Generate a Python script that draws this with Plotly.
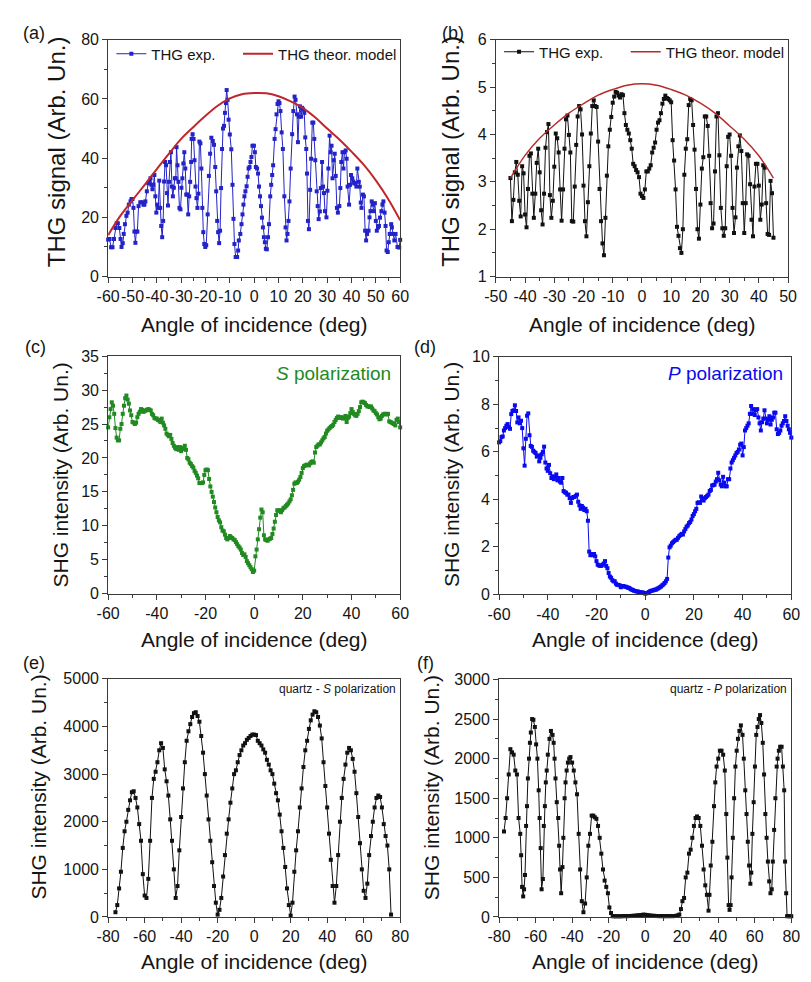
import plotly.graph_objects as go

FONT = "Liberation Sans, Arial, Helvetica, sans-serif"
W, H = 811, 982

# ---------------- data ----------------
# (a) THG, sample 1 (blue) + theoretical model
a_angle = [-60.0, -59.4, -58.8, -58.2, -57.6, -57.0, -56.5, -56.0, -55.4, -54.9,
           -54.5, -54.0, -53.6, -53.1, -52.5, -52.0, -51.5, -50.8, -50.4, -50.0,
           -49.6, -49.2, -48.8, -48.4, -48.0, -47.5, -46.8, -46.1, -45.5, -45.1,
           -44.7, -44.1, -43.5, -43.0, -42.6, -42.2, -41.8, -41.4, -41.0, -40.6,
           -40.2, -39.8, -39.4, -39.0, -38.6, -38.2, -37.8, -37.4, -37.0, -36.6,
           -36.2, -35.8, -35.4, -35.0, -34.6, -34.2, -33.8, -33.4, -33.0, -32.6,
           -32.2, -31.9, -31.5, -31.1, -30.7, -30.3, -29.9, -29.5, -29.1, -28.7,
           -28.3, -27.9, -27.5, -27.1, -26.7, -26.3, -25.9, -25.7, -25.3, -24.9,
           -24.5, -24.1, -23.7, -23.3, -22.9, -22.5, -22.1, -21.7, -21.3, -20.9,
           -20.5, -20.1, -19.7, -19.1, -18.6, -18.1, -17.6, -17.0, -16.5, -16.0,
           -15.6, -15.2, -14.8, -14.4, -14.0, -13.6, -13.2, -12.8, -12.4, -12.0,
           -11.6, -11.3, -10.9, -10.5, -10.0, -9.4, -8.9, -8.5, -8.1, -7.6,
           -7.0, -6.6, -6.3, -5.7, -5.2, -4.8, -4.4, -4.0, -3.6, -3.1,
           -2.7, -2.3, -1.9, -1.5, -1.1, -0.7, -0.1, 0.3, 0.7, 1.2,
           1.6, 2.0, 2.4, 2.8, 3.2, 3.6, 4.0, 4.4, 4.8, 5.2,
           5.7, 6.1, 6.6, 7.0, 7.4, 7.8, 8.4, 8.8, 9.2, 9.6,
           10.0, 10.4, 10.8, 11.3, 11.8, 12.4, 12.9, 13.3, 13.7, 14.1,
           14.5, 15.0, 15.6, 16.1, 16.6, 17.0, 17.6, 18.0, 18.4, 18.8,
           19.3, 19.7, 20.1, 20.6, 21.0, 21.4, 21.7, 22.1, 22.5, 23.0,
           23.4, 23.9, 24.3, 24.7, 25.1, 25.7, 26.1, 26.5, 27.0, 27.4,
           27.9, 28.3, 28.7, 29.1, 29.7, 30.1, 30.5, 31.0, 31.4, 31.8,
           32.2, 32.7, 33.1, 33.5, 34.0, 34.4, 35.0, 35.4, 35.8, 36.3,
           36.7, 37.1, 37.6, 38.0, 38.4, 39.0, 39.4, 39.8, 40.3, 40.7,
           41.1, 41.6, 42.0, 42.4, 43.0, 43.4, 43.8, 44.1, 44.7, 45.1,
           45.6, 46.0, 46.4, 47.0, 47.4, 47.8, 48.3, 48.7, 49.1, 49.6,
           50.0, 50.4, 50.9, 51.3, 51.7, 52.3, 52.7, 53.1, 53.6, 54.0,
           54.4, 54.9, 55.3, 55.7, 56.3, 56.6, 57.0, 57.6, 58.1, 58.9,
           59.6, 60.0]
a_thg = [12.5, 12.7, 9.9, 9.9, 12.7, 16.4, 18.0, 18.0, 16.4, 12.7,
         10.0, 11.3, 14.4, 17.7, 20.5, 21.6, 24.3, 25.4, 26.2, 26.2,
         23.2, 15.2, 11.4, 15.2, 15.2, 23.8, 25.1, 25.1, 24.3, 24.3,
         25.4, 28.8, 31.5, 32.0, 33.2, 31.0, 29.5, 31.0, 34.3, 27.1,
         21.6, 24.3, 23.2, 32.4, 23.2, 17.1, 13.3, 18.8, 32.1, 38.7,
         37.6, 28.2, 24.0, 32.0, 38.7, 42.0, 30.4, 27.1, 30.0, 33.2,
         33.2, 43.7, 37.6, 32.0, 23.2, 22.7, 30.0, 33.2, 38.2, 42.0,
         36.5, 27.7, 27.7, 21.0, 27.1, 32.0, 38.7, 46.5, 48.1, 46.5,
         39.3, 30.4, 26.5, 23.2, 28.0, 45.6, 45.0, 36.5, 23.2, 15.0,
         11.0, 10.0, 10.6, 21.0, 34.0, 41.5, 46.9, 45.8, 44.5, 37.0,
         28.8, 18.8, 15.0, 11.3, 15.5, 29.9, 43.1, 50.0, 50.9, 55.3,
         58.6, 63.0, 59.7, 53.0, 48.0, 43.0, 31.0, 19.5, 11.0, 6.6,
         6.6, 8.8, 12.2, 14.4, 17.7, 21.0, 24.3, 27.1, 28.8, 30.5,
         33.7, 36.5, 37.0, 38.7, 40.4, 44.2, 44.2, 42.0, 37.0, 36.5,
         34.8, 30.4, 27.1, 23.8, 19.9, 16.6, 13.3, 11.6, 9.4, 9.2,
         13.3, 17.7, 27.1, 31.0, 34.3, 37.6, 46.5, 49.8, 54.8, 58.3,
         59.2, 58.6, 55.9, 48.7, 43.1, 27.1, 16.6, 12.2, 14.4, 18.8,
         25.4, 36.5, 48.1, 55.9, 60.8, 59.7, 54.8, 45.4, 54.0, 57.5,
         54.0, 57.0, 56.5, 55.3, 47.0, 43.1, 34.8, 18.8, 16.0, 29.3,
         39.8, 52.0, 52.0, 46.5, 39.3, 28.8, 23.8, 19.4, 22.0, 29.9,
         38.7, 30.4, 28.2, 22.1, 20.0, 29.0, 36.5, 47.6, 42.0, 44.2,
         33.2, 39.3, 41.5, 34.0, 23.2, 21.6, 23.8, 29.9, 38.7, 42.0,
         36.5, 42.0, 42.6, 39.8, 30.4, 24.3, 31.0, 34.3, 33.2, 32.1,
         31.5, 31.5, 30.4, 36.5, 32.0, 30.4, 25.0, 23.2, 27.7, 27.1,
         15.5, 12.2, 14.4, 15.5, 20.0, 22.1, 25.4, 24.3, 22.1, 24.8,
         18.8, 15.5, 16.6, 17.1, 19.9, 22.1, 24.3, 25.4, 21.6, 17.1,
         8.8, 8.3, 11.6, 14.4, 17.7, 16.6, 14.4, 12.2, 14.4, 10.0,
         9.8, 12.4]
a_model_angle = [-60, -55, -50, -45, -40, -35, -30, -25, -20, -15, -10, -5, 0,
                 5, 10, 15, 20, 25, 30, 35, 40, 45, 50, 55, 60]
a_model = [14.0, 20.5, 25.8, 31.0, 36.3, 41.5, 46.5, 50.5, 54.3, 57.7, 60.2, 61.6, 62.0,
           61.9, 60.9, 59.2, 57.0, 53.8, 50.0, 46.3, 42.2, 37.8, 32.5, 26.3, 19.0]

# (b) THG, sample 2 (black) + theoretical model; angle grid -45..45 step 0.5
b_start, b_step = -45.0, 0.5
b_thg = [3.08, 2.17, 2.62, 3.20, 3.42, 3.15, 2.60, 2.27, 3.33, 3.18,
         2.31, 2.04, 2.85, 3.55, 3.60, 2.75, 2.24, 2.75, 3.40, 3.70,
         3.20, 2.40, 2.10, 2.75, 3.72, 4.05, 4.22, 2.72, 2.24, 2.60,
         3.32, 4.02, 3.92, 3.62, 2.84, 2.18, 2.84, 3.70, 4.32, 4.40,
         3.99, 3.62, 2.17, 2.16, 2.90, 3.78, 4.38, 4.60, 4.53, 4.00,
         2.92, 2.17, 1.85, 2.57, 3.33, 4.02, 4.60, 4.72, 4.60, 4.58,
         3.85, 2.85, 2.17, 1.70, 1.45, 2.24, 3.13, 3.75, 4.10, 4.37,
         4.67, 4.80, 4.90, 4.88, 4.82, 4.78, 4.85, 4.83, 4.45, 4.20,
         4.10, 4.02, 3.88, 3.70, 3.38, 3.33, 3.25, 3.20, 3.10, 2.75,
         2.70, 2.66, 2.84, 3.22, 3.22, 3.28, 3.35, 3.62, 3.72, 3.83,
         4.10, 4.25, 4.30, 4.45, 4.65, 4.75, 4.82, 4.77, 4.75, 4.72,
         4.68, 3.88, 3.45, 2.84, 2.05, 1.86, 1.60, 1.50, 2.00, 3.15,
         3.70, 3.90, 4.62, 4.75, 4.72, 4.20, 3.68, 2.85, 2.00, 1.80,
         2.52, 3.28, 3.52, 4.38, 4.38, 4.18, 3.55, 2.55, 2.02, 2.12,
         3.22, 4.38, 4.45, 3.56, 2.45, 2.02, 1.86, 2.02, 3.33, 3.95,
         4.00, 3.55, 2.45, 1.92, 2.25, 3.30, 3.75, 3.98, 3.65, 2.55,
         1.92, 2.55, 3.58, 3.55, 2.95, 2.20, 1.85, 2.90, 3.38, 3.38,
         2.92, 2.20, 2.52, 3.35, 3.30, 2.55, 1.90, 1.88, 3.02, 2.76,
         1.82]
b_model_angle = [-45, -40, -35, -30, -25, -20, -15, -10, -5, 0, 5, 10, 15, 20, 25, 30, 35, 40, 45]
b_model = [3.08, 3.56, 3.92, 4.20, 4.45, 4.65, 4.83, 4.95, 5.04, 5.07, 5.04, 4.95, 4.83,
           4.66, 4.45, 4.18, 3.90, 3.55, 3.08]

# (c) SHG, S polarization; angle grid -60..60 step 0.5
c_start, c_step = -60.0, 0.5
c_shg = [24.5, 26.0, 27.2, 28.2, 27.7, 26.5, 24.4, 23.0, 22.6, 22.6,
         24.3, 25.0, 26.5, 27.7, 28.8, 29.2, 28.6, 28.0, 27.0, 26.3,
         25.3, 25.2, 25.0, 25.2, 26.0, 26.5, 26.8, 27.2, 27.1, 26.8,
         26.9, 27.0, 27.1, 27.2, 27.1, 27.0, 26.5, 26.3, 25.9, 25.8,
         25.8, 25.6, 25.5, 25.3, 25.8, 25.2, 24.8, 24.3, 23.6, 23.4,
         23.2, 23.4, 22.8, 22.2, 21.8, 21.5, 21.3, 21.6, 21.2, 21.6,
         21.0, 21.5, 21.3, 21.8, 21.2, 20.0, 19.8, 19.3, 19.1, 18.8,
         18.6, 18.1, 17.8, 17.4, 17.0, 16.3, 16.3, 16.3, 16.4, 17.5,
         18.2, 18.3, 18.2, 16.9, 15.8, 15.0, 14.3, 13.5, 12.7, 12.0,
         11.3, 10.8, 10.5, 9.8, 9.3, 9.2, 8.7, 8.2, 8.0, 8.2,
         8.5, 8.3, 8.2, 8.0, 7.9, 7.6, 7.3, 7.0, 6.8, 6.5,
         6.0, 5.7, 5.8, 5.4, 4.8, 4.5, 4.2, 3.9, 3.6, 3.2,
         3.4, 5.5, 6.5, 8.0, 9.5, 11.2, 12.4, 12.0, 8.6, 8.0,
         7.9, 7.8, 8.0, 8.1, 8.2, 8.8, 9.6, 10.6, 11.6, 12.3,
         12.2, 12.3, 12.0, 12.3, 12.6, 12.7, 12.9, 13.1, 13.3, 13.6,
         13.9, 14.5, 15.3, 16.2, 16.4, 16.3, 16.5, 16.8, 17.2, 17.8,
         18.5, 18.8, 18.9, 19.0, 19.0, 18.9, 19.2, 19.4, 19.5, 19.3,
         20.8, 21.6, 21.8, 22.0, 22.0, 22.3, 22.6, 22.9, 23.1, 23.6,
         24.0, 24.2, 24.4, 24.6, 24.7, 24.9, 25.3, 25.6, 25.9, 26.1,
         25.9, 26.0, 26.0, 25.8, 25.9, 26.2, 25.3, 25.9, 26.1, 26.6,
         27.2, 26.8, 26.5, 26.3, 26.2, 26.5, 26.9, 27.5, 28.2, 28.3,
         28.2, 28.1, 27.8, 27.6, 27.6, 27.5, 27.6, 27.3, 27.0, 26.9,
         26.6, 26.4, 26.0, 25.7, 25.8, 26.2, 26.4, 26.5, 26.5, 26.4,
         26.5, 25.4, 25.3, 25.2, 25.1, 25.0, 24.8, 25.6, 25.8, 25.3,
         24.5]

# (d) SHG, P polarization; angle grid -60..60 step 0.5
d_start, d_step = -60.0, 0.5
d_shg = [6.40, 6.45, 6.62, 6.65, 6.90, 7.00, 7.10, 7.17, 7.05, 6.97,
         7.59, 7.72, 7.75, 7.96, 7.72, 7.24, 7.45, 7.20, 7.31, 7.00,
         6.15, 5.42, 6.55, 7.52, 7.62, 6.70, 6.25, 6.21, 6.05, 6.00,
         5.95, 5.80, 5.85, 5.60, 5.75, 5.90, 6.00, 6.22, 5.55, 5.30,
         5.20, 5.45, 5.10, 4.90, 4.97, 4.85, 4.95, 5.05, 4.80, 4.90,
         4.75, 4.70, 4.90, 4.35, 4.30, 4.28, 4.20, 4.20, 4.05, 3.85,
         4.05, 4.10, 4.10, 4.15, 4.20, 3.90, 3.75, 3.60, 3.72, 3.65,
         3.55, 3.60, 3.50, 3.10, 1.80, 1.65, 1.70, 1.65, 1.70, 1.60,
         1.40, 1.25, 1.22, 1.20, 1.20, 1.25, 1.30, 1.40, 1.20, 1.10,
         0.90, 0.75, 0.70, 0.60, 0.55, 0.55, 0.45, 0.40, 0.40, 0.38,
         0.30, 0.35, 0.35, 0.33, 0.32, 0.30, 0.28, 0.27, 0.22, 0.20,
         0.18, 0.15, 0.14, 0.12, 0.12, 0.10, 0.09, 0.08, 0.08, 0.06,
         0.03, 0.05, 0.06, 0.10, 0.13, 0.15, 0.16, 0.18, 0.20, 0.20,
         0.24, 0.26, 0.30, 0.33, 0.38, 0.42, 0.48, 0.55, 0.65, 1.55,
         1.98, 2.05, 2.15, 2.20, 2.25, 2.30, 2.30, 2.38, 2.45, 2.50,
         2.55, 2.52, 2.65, 2.75, 2.85, 2.90, 3.00, 3.05, 3.15, 3.30,
         3.38, 3.50, 3.60, 3.85, 3.88, 3.85, 4.12, 4.00, 3.95, 4.05,
         4.10, 4.15, 4.20, 4.35, 4.40, 4.58, 4.60, 4.62, 4.75, 4.85,
         5.12, 4.80, 4.62, 4.55, 4.95, 4.70, 4.55, 4.55, 4.85, 4.85,
         5.30, 5.55, 5.65, 5.75, 5.85, 5.95, 6.00, 6.10, 6.30, 6.35,
         5.85, 6.20, 6.90, 7.00, 7.10, 7.20, 7.60, 7.93, 7.60, 7.80,
         7.55, 7.75, 7.80, 7.45, 7.20, 6.90, 7.25, 7.40, 7.75, 7.40,
         7.20, 7.35, 7.50, 7.15, 7.35, 7.45, 7.65, 7.65, 6.95, 6.75,
         6.80, 6.90, 7.10, 7.20, 7.30, 7.50, 7.30, 7.10, 6.95, 6.80,
         6.60]

# (e) quartz, S polarization; angle grid -76..75 step 1
e_start, e_step = -76.0, 1.0
e_shg = [100, 250, 600, 950, 1450, 1800, 2000, 2250, 2450, 2620,
         2640, 2500, 2300, 1950, 1600, 900, 450, 400, 800, 1600,
         2500, 2900, 3050, 3250, 3500, 3650, 3550, 3100, 2850, 2550,
         2050, 1600, 1000, 400, 650, 1400, 2100, 2700, 3250, 3700,
         3900, 4050, 4200, 4280, 4300, 4220, 4100, 3800, 3450, 3000,
         2550, 2050, 1600, 1150, 650, 300, 50, 150, 400, 850,
         1300, 1750, 2050, 2400, 2700, 3000, 3080, 3250, 3400, 3500,
         3600, 3650, 3720, 3760, 3800, 3830, 3830, 3820, 3700, 3650,
         3600, 3520, 3450, 3300, 3200, 3080, 3000, 2800, 2600, 2450,
         2150, 1800, 1450, 1050, 600, 250, 30, 300, 950, 1400,
         1800, 2300, 2700, 3150, 3500, 3700, 3950, 4130, 4250, 4320,
         4300, 4200, 4020, 3750, 3250, 2750, 2300, 1750, 1200, 650,
         300, 650, 1300, 2000, 2500, 2900, 3200, 3450, 3550, 3500,
         3320, 3050, 2600, 2100, 1550, 1000, 550, 400, 700, 1300,
         1700, 2000, 2300, 2500, 2550, 2520, 2300, 1950, 1700, 1500,
         1000, 50]

# (f) quartz, P polarization
f_angle = [-77.3, -76.4, -75.6, -74.7, -73.8, -72.9, -72.0, -71.1, -70.2, -69.3,
           -68.4, -67.9, -67.4, -66.8, -66.3, -65.8, -65.2, -64.7, -64.2, -63.6,
           -63.1, -62.6, -61.9, -61.2, -60.4, -59.7, -59.0, -58.3, -57.8, -57.2,
           -56.7, -56.0, -55.5, -54.9, -54.4, -53.9, -53.3, -52.4, -51.6, -50.7,
           -50.1, -49.6, -49.1, -48.4, -47.6, -47.1, -46.6, -46.0, -45.3, -44.8,
           -44.1, -43.6, -43.0, -42.3, -41.6, -40.9, -40.0, -39.1, -38.2, -37.3,
           -36.4, -35.6, -34.7, -33.8, -32.9, -32.0, -31.1, -30.2, -29.3, -28.4,
           -27.6, -26.7, -25.8, -24.9, -24.0, -23.1, -22.2, -21.3, -20.4, -19.6,
           -18.7, -17.8, -17, -16, -15, -14, -13, -12, -11, -10,
           -9, -8, -7, -6, -5, -4, -3, -2, -1, 0,
           1, 2, 3, 4, 5, 6, 7, 8, 9, 10,
           11, 12, 13, 14, 15, 16, 17, 17.8, 18.7, 19.6,
           20.4, 21.3, 22.2, 23.1, 24.0, 24.9, 25.8, 26.7, 27.6, 28.4,
           29.3, 30.2, 31.1, 32.0, 32.9, 33.8, 34.7, 35.2, 35.9, 36.8,
           37.7, 38.4, 39.1, 40.0, 40.9, 41.8, 42.7, 43.6, 44.4, 45.0,
           45.7, 46.2, 46.8, 47.3, 48.0, 48.7, 49.4, 50.1, 50.8, 51.6,
           52.4, 53.3, 54.0, 54.8, 55.5, 56.2, 56.9, 57.6, 58.1, 58.7,
           59.4, 60.1, 60.8, 61.5, 62.2, 62.9, 63.6, 64.4, 65.1, 65.8,
           66.5, 67.2, 67.9, 68.6, 69.3, 69.9, 70.6, 71.3, 72.0, 72.5,
           73.2, 73.9, 74.7, 75.4, 76.1, 76.6, 77.2, 77.7, 78.5, 79.3,
           80.0]
f_shg = [1080, 1250, 1500, 1800, 2120, 2080, 2050, 1850, 1800, 1250,
         1050, 780, 380, 260, 350, 530, 1150, 1400, 1750, 2000,
         2200, 2330, 2500, 2490, 2400, 2180, 2000, 1600, 1250, 870,
         350, 480, 1150, 1400, 1700, 1850, 2050, 2250, 2350, 2300,
         2200, 2000, 1750, 1450, 1250, 900, 600, 300, 630, 1000,
         1500, 1700, 1850, 1950, 2000, 2020, 1950, 1850, 1700, 1550,
         1050, 600, 200, 60, 170, 500, 900, 1050, 1280, 1280,
         1260, 1240, 1150, 1000, 800, 600, 460, 380, 300, 120,
         50, 10, 10, 8, 10, 8, 10, 10, 12, 10,
         12, 12, 15, 15, 18, 20, 22, 25, 30, 28,
         25, 20, 18, 15, 15, 12, 12, 10, 12, 10,
         10, 12, 10, 12, 10, 12, 15, 20, 30, 100,
         200, 240, 500, 560, 800, 850, 1000, 1150, 1250, 1270,
         1250, 1150, 900, 600, 400, 280, 80, 280, 650, 950,
         1400, 1700, 1900, 2000, 2100, 2100, 2050, 1850, 1300, 750,
         150, 90, 150, 500, 1000, 1500, 1900, 2100, 2250, 2350,
         2420, 2300, 2000, 1600, 1300, 950, 650, 420, 560, 1050,
         1450, 1900, 2300, 2400, 2500, 2550, 2450, 2200, 1800, 1300,
         1000, 700, 450, 300, 350, 700, 1100, 1500, 1900, 2000,
         2100, 2150, 2150, 1900, 1600, 700, 300, 10, 10, 10,
         10]

# tick values per panel (labels written with a plain hyphen, as in the figure)
a_xticks = [-60, -50, -40, -30, -20, -10, 0, 10, 20, 30, 40, 50, 60]
a_yticks = [0, 20, 40, 60, 80]
b_xticks = [-50, -40, -30, -20, -10, 0, 10, 20, 30, 40, 50]
b_yticks = [1, 2, 3, 4, 5, 6]
c_xticks = [-60, -40, -20, 0, 20, 40, 60]
c_yticks = [0, 5, 10, 15, 20, 25, 30, 35]
d_xticks = [-60, -40, -20, 0, 20, 40, 60]
d_yticks = [0, 2, 4, 6, 8, 10]
e_xticks = [-80, -60, -40, -20, 0, 20, 40, 60, 80]
e_yticks = [0, 1000, 2000, 3000, 4000, 5000]
f_xticks = [-80, -60, -40, -20, 0, 20, 40, 60, 80]
f_yticks = [0, 500, 1000, 1500, 2000, 2500, 3000]

b_angle = [b_start + b_step * i for i in range(len(b_thg))]
c_angle = [c_start + c_step * i for i in range(len(c_shg))]
d_angle = [d_start + d_step * i for i in range(len(d_shg))]
e_angle = [e_start + e_step * i for i in range(len(e_shg))]

# ---------------- styling / layout ----------------
AXC = "#3a3a3a"
BLUE_A = "#2323c8"
RED_A = "#c0262c"
RED_B = "#b52a2a"
GREEN = "#218a21"
BLUE_D = "#0a0af0"
BLACK = "#111111"


def px_x(p):
    return p / W


def px_y(p):
    return 1 - p / H


fig = go.Figure()


def series(x, y, color, axis, name=None, legend=None, lw=1.0, ms=4):
    fig.add_trace(go.Scatter(
        x=x, y=y, mode="lines+markers", name=name,
        line=dict(color=color, width=lw),
        marker=dict(symbol="square", size=ms, color=color, line=dict(width=0)),
        xaxis="x" + axis, yaxis="y" + axis, cliponaxis=False,
        showlegend=legend is not None, legend=legend if legend else "legend",
    ))


def model(x, y, color, axis, name, legend, lw):
    fig.add_trace(go.Scatter(
        x=x, y=y, mode="lines", name=name, line=dict(color=color, width=lw, shape="spline"),
        xaxis="x" + axis, yaxis="y" + axis, showlegend=True, legend=legend,
    ))


series(a_angle, a_thg, BLUE_A, "", "THG exp.", "legend")
model(a_model_angle, a_model, RED_A, "", "THG theor. model", "legend3", 2.0)
series(b_angle, b_thg, BLACK, "2", "THG exp.", "legend2")
model(b_model_angle, b_model, RED_B, "2", "THG theor. model", "legend4", 1.4)
series(c_angle, c_shg, GREEN, "3")
series(d_angle, d_shg, BLUE_D, "4")
series(e_angle, e_shg, BLACK, "5")
series(f_angle, f_shg, BLACK, "6")

panels = {
    "": dict(xd=(98.7, 398.5), yd=(32.3, 273.3), xr=[-60, 60], xt=a_xticks, xm=5, yr=[0, 80], yt=a_yticks, ym=10),
    "2": dict(xd=(496.7, 796.7), yd=(32.3, 273.3), xr=[-50, 50], xt=b_xticks, xm=5, yr=[1, 6], yt=b_yticks, ym=0.5),
    "3": dict(xd=(98.7, 398.5), yd=(354.3, 596.0), xr=[-60, 60], xt=c_xticks, xm=10, yr=[0, 35], yt=c_yticks, ym=2.5),
    "4": dict(xd=(500.0, 800.0), yd=(355.0, 596.7), xr=[-60, 60], xt=d_xticks, xm=10, yr=[0, 10], yt=d_yticks, ym=1),
    "5": dict(xd=(98.7, 398.5), yd=(682.7, 925.0), xr=[-80, 80], xt=e_xticks, xm=10, yr=[0, 5000], yt=e_yticks, ym=500),
    "6": dict(xd=(500.0, 800.0), yd=(683.3, 925.0), xr=[-80, 80], xt=f_xticks, xm=10, yr=[0, 3000], yt=f_yticks, ym=250),
}

tickfont = dict(family=FONT, size=16, color="#151515")
layout = dict(
    width=W, height=H, autosize=False,
    margin=dict(l=0, r=0, t=0, b=0, pad=0),
    paper_bgcolor="white", plot_bgcolor="white",
    font=dict(family=FONT, color="#151515"),
)
for k, p in panels.items():
    common = dict(showline=True, mirror=True, linecolor=AXC, linewidth=1,
                  ticks="outside", ticklen=5, tickwidth=1, tickcolor=AXC,
                  showgrid=False, zeroline=False, tickfont=tickfont, tickangle=0,
                  fixedrange=True, tickmode="array")
    layout["xaxis" + k] = dict(common, domain=[px_x(p["xd"][0]), px_x(p["xd"][1])],
                               range=p["xr"], tickvals=p["xt"], ticktext=[str(v) for v in p["xt"]],
                               minor=dict(ticks="outside", ticklen=3, dtick=p["xm"], tick0=0,
                                          tickcolor=AXC, showgrid=False),
                               anchor="y" + k)
    layout["yaxis" + k] = dict(common, domain=[px_y(p["yd"][1]), px_y(p["yd"][0])],
                               range=p["yr"], tickvals=p["yt"], ticktext=[str(v) for v in p["yt"]],
                               minor=dict(ticks="outside", ticklen=3, dtick=p["ym"], tick0=0,
                                          tickcolor=AXC, showgrid=False),
                               anchor="x" + k)

leg_common = dict(orientation="h", xanchor="left", yanchor="top",
                  itemwidth=30, bgcolor="rgba(0,0,0,0)",
                  font=dict(family=FONT, size=15, color="#151515"), borderwidth=0)
layout["legend"] = dict(leg_common, x=px_x(102), y=px_y(30))
layout["legend3"] = dict(leg_common, x=px_x(232), y=px_y(30))
layout["legend2"] = dict(leg_common, x=px_x(500), y=px_y(28))
layout["legend4"] = dict(leg_common, x=px_x(630), y=px_y(28))

fig.update_layout(**layout)

ann = []


def text(x, y, s, size, color="#151515", xanchor="center", angle=0):
    ann.append(dict(x=px_x(x), y=px_y(y), xref="paper", yref="paper", text=s,
                    showarrow=False, xanchor=xanchor, yanchor="middle", textangle=angle,
                    font=dict(family=FONT, size=size, color=color)))


# panel letters
for lbl, x, y in [("(a)", 23, 25), ("(b)", 453, 25), ("(c)", 24, 345),
                  ("(d)", 424, 345), ("(e)", 23, 667), ("(f)", 425, 667)]:
    text(x, y, lbl, 18)

# axis titles
xt = "Angle of incidence (deg)"
for x, y in [(248.6, 322), (646.7, 322), (248.6, 643), (650, 643), (248.6, 970), (650, 970)]:
    text(x, y, xt, 21)
text(46, 146, "THG signal (Arb. Un.)", 24, angle=-90)
text(450, 146, "THG signal (Arb. Un.)", 24, angle=-90)
text(50, 475, "SHG intensity (Arb. Un.)", 21, angle=-90)
text(451, 475, "SHG intensity (Arb. Un.)", 21, angle=-90)
text(27, 793, "SHG intensity (Arb. Un.)", 21, angle=-90)
text(430, 793, "SHG intensity (Arb. Un.)", 21, angle=-90)

# in-panel labels
text(391, 372, "<i>S</i> polarization", 19, GREEN, xanchor="right")
text(794, 372, "<i>P</i> polarization", 19, BLUE_D, xanchor="right")
text(396, 693, "quartz - <i>S</i> polarization", 12, xanchor="right")
text(798, 693, "quartz - <i>P</i> polarization", 12, xanchor="right")

fig.update_layout(annotations=ann)

fig.write_html("out.html", config={"displayModeBar": False},
               post_script="document.body.style.margin='0';document.body.style.overflow='hidden';")
